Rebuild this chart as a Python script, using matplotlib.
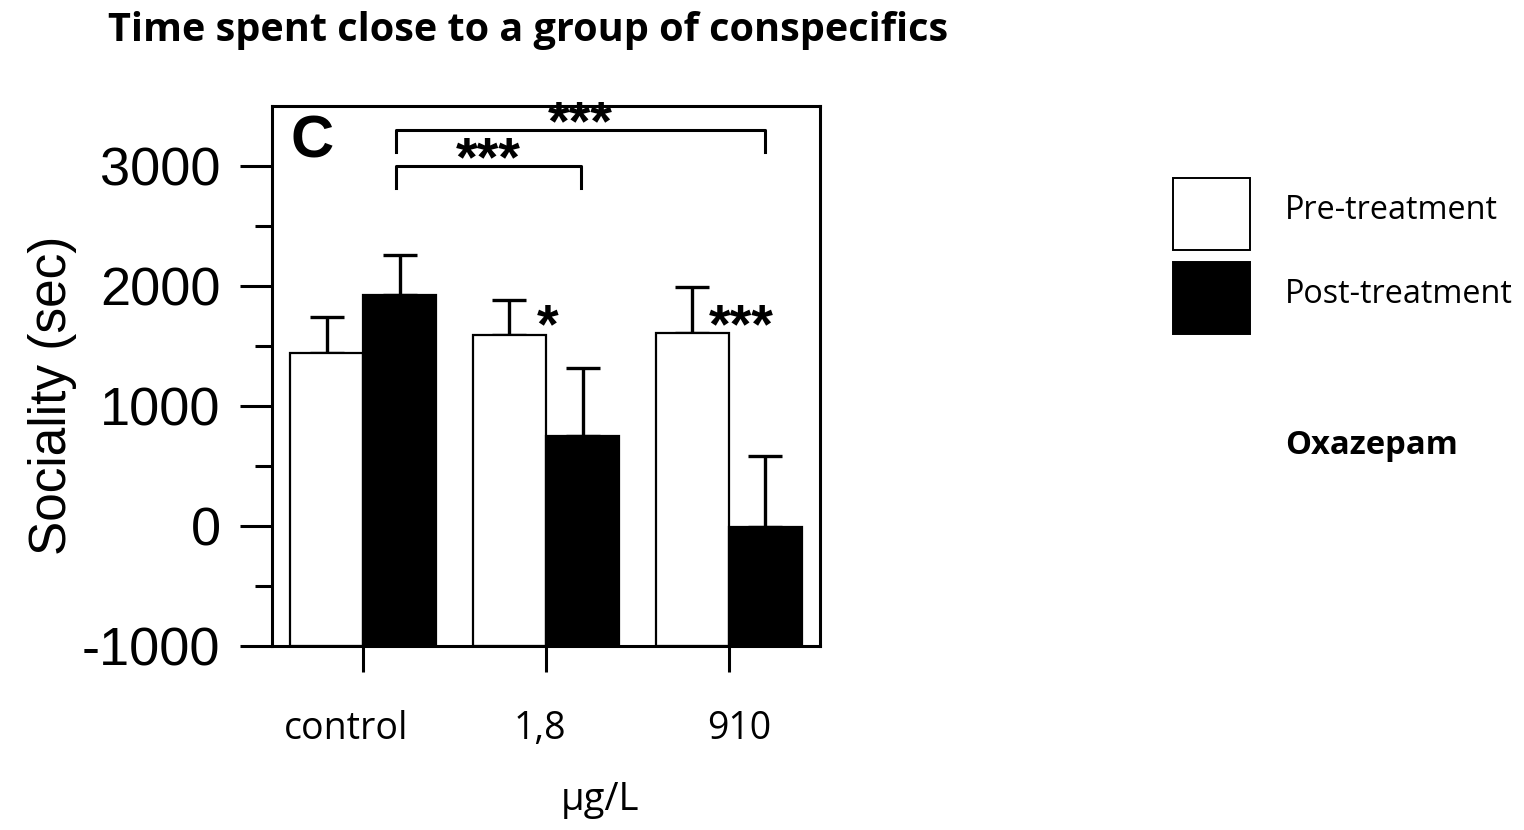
import matplotlib
matplotlib.use("Agg")
import matplotlib.pyplot as plt
from matplotlib.patches import Rectangle
import numpy as np

plt.rcParams["axes.unicode_minus"] = False

# data
groups = ["control", "1,8", "910"]
pre_vals = [1440, 1590, 1610]
pre_err = [300, 290, 380]
post_vals = [1925, 750, -10]
post_err = [335, 570, 595]
series = ["Pre-treatment", "Post-treatment"]

# significance marks: (x0, x1, level, label)
brackets = [(0.18, 1.19, 3000, "***"), (0.18, 2.2, 3300, "***")]
pair_marks = [(1.01, "*"), (2.07, "***")]

W, H = 1524, 830
fig = plt.figure(figsize=(W / 100, H / 100), dpi=100, facecolor="white")
ax = fig.add_axes([272 / W, (H - 646) / H, (820 - 272) / W, (646 - 106) / H])

ymin = -1000
x = np.arange(len(groups))
bw = 0.4
ax.bar(x - bw / 2, np.array(pre_vals) - ymin, bw, bottom=ymin, color="white",
       edgecolor="black", linewidth=1.6, zorder=2)
ax.bar(x + bw / 2, np.array(post_vals) - ymin, bw, bottom=ymin, color="black",
       edgecolor="black", linewidth=1.6, zorder=2)
ax.errorbar(x - bw / 2, pre_vals, yerr=[np.zeros(3), pre_err], fmt="none", ecolor="black",
            elinewidth=2.4, capsize=12, capthick=2.4, zorder=1)
ax.errorbar(x + bw / 2, post_vals, yerr=[np.zeros(3), post_err], fmt="none", ecolor="black",
            elinewidth=2.4, capsize=12, capthick=2.4, zorder=1)

ax.set_xlim(-0.5, 2.5)
ax.set_ylim(ymin, 3500)
ax.set_yticks([-1000, 0, 1000, 2000, 3000])
ax.set_yticks([-500, 500, 1500, 2500], minor=True)
ax.set_xticks(x)
ax.set_xticklabels([])
for s in ax.spines.values():
    s.set_linewidth(2.2)
ax.tick_params(axis="y", which="major", length=23, width=2.2, pad=14,
               labelsize=39, labelfontfamily="Liberation Sans")
ax.tick_params(axis="y", which="minor", length=12, width=2.2)
ax.tick_params(axis="x", which="major", length=19, width=2.2)
ax.set_ylabel("Sociality (sec)", fontsize=37, family="Liberation Sans")
ax.yaxis.set_label_coords(-0.356, 0.465)

ax.text(0.033, 0.985, "C", transform=ax.transAxes, fontsize=43, fontweight="bold",
        family="Liberation Sans", va="top", ha="left")

tick_h = 180
star_kw = dict(ha="center", va="baseline", fontsize=40, family="Liberation Sans",
               fontweight="bold")
for x0, x1, lev, lab in brackets:
    ax.plot([x0, x0, x1, x1], [lev - tick_h, lev, lev, lev - tick_h], color="black", lw=2.2)
    ax.text((x0 + x1) / 2, lev - 75, lab, **star_kw)
for xi, lab in pair_marks:
    ax.text(xi, 1535, lab, **star_kw)

# overlay in pixel coords for the free-standing texts and the legend
ov = fig.add_axes([0, 0, 1, 1], facecolor="none")
ov.set_xlim(0, W)
ov.set_ylim(H, 0)
ov.axis("off")

font = "Open Sans"
ov.text(108, 31, "Time spent close to a group of conspecifics", fontsize=28.5,
        fontweight="bold", family=font, va="center", ha="left")
label_px = [346, 540, 739]
for px, g in zip(label_px, groups):
    ov.text(px, 729, g, fontsize=27, family=font, ha="center", va="center")
ov.text(600, 800, "µg/L", fontsize=27.5, family=font, ha="center", va="center")

box_y = [178, 262]
colors = ["white", "black"]
for by, c, name in zip(box_y, colors, series):
    ov.add_patch(Rectangle((1173, by), 77, 72, facecolor=c, edgecolor="black", lw=1.4))
    ov.text(1285, by + 32, name, fontsize=23.3, family=font, va="center", ha="left")
ov.text(1285, 445, "Oxazepam", fontsize=23.6, family=font, fontweight="bold",
        va="center", ha="left")

fig.savefig("out.png", dpi=100, facecolor="white")
